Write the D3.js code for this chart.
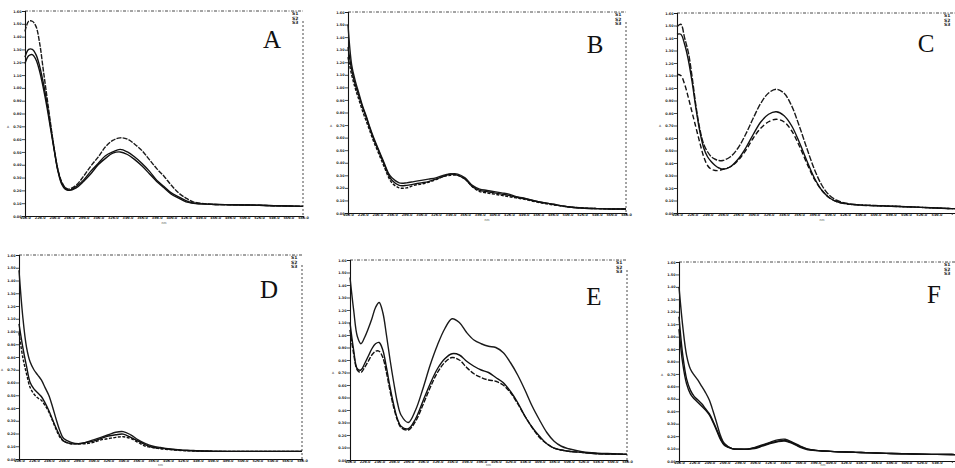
<!DOCTYPE html>
<html>
<head>
<meta charset="utf-8">
<script src="https://d3js.org/d3.v7.min.js"></script>
<style>
  html, body { margin: 0; padding: 0; background: #fff; }
  svg { display: block; }
</style>
</head>
<body>
<svg id="chart" width="955" height="468"></svg>
<script>
// ---------- tick labels ----------
const xTickValues = [200,220,240,260,280,300,320,340,360,380,400,420,440,460,480,500,520,540,560,580];
const yTickValues = [0,0.1,0.2,0.3,0.4,0.5,0.6,0.7,0.8,0.9,1.0,1.1,1.2,1.3,1.4,1.5,1.6];
const panelLetters = ["A","B","C","D","E","F"];
const legendLabels = ["S1","S2","S3"];

// ---------- wavelengths (nm) ----------
const wlStd = [200,205,210,215,220,225,230,235,240,245,250,255,260,270,280,290,300,310,320,330,340,350,360,370,380,390,400,410,420,430,440,460,480,500,520,540,560,580];
const wlE   = [200,205,210,215,220,225,230,235,240,245,250,255,260,265,270,280,290,300,310,320,330,340,350,360,370,380,390,400,410,420,430,440,450,460,470,480,490,500,520,540,560,580];

// ---------- absorbance series ----------
const absA1 = [1.44,1.52,1.52,1.48,1.35,1.14,0.93,0.72,0.52,0.36,0.27,0.22,0.21,0.24,0.31,0.39,0.46,0.54,0.59,0.61,0.60,0.56,0.51,0.44,0.37,0.31,0.24,0.18,0.14,0.11,0.10,0.09,0.088,0.086,0.084,0.08,0.078,0.075];
const absA2 = [1.24,1.30,1.30,1.26,1.17,1.04,0.88,0.70,0.52,0.36,0.26,0.22,0.20,0.23,0.28,0.35,0.41,0.47,0.50,0.52,0.50,0.46,0.41,0.35,0.28,0.23,0.18,0.15,0.12,0.10,0.095,0.09,0.088,0.086,0.084,0.08,0.078,0.075];
const absA3 = [1.19,1.25,1.26,1.22,1.13,1.00,0.85,0.68,0.51,0.35,0.25,0.21,0.20,0.22,0.27,0.33,0.40,0.45,0.49,0.50,0.48,0.44,0.39,0.33,0.27,0.22,0.17,0.14,0.11,0.10,0.095,0.09,0.088,0.086,0.084,0.08,0.078,0.075];

const absB1 = [1.50,1.18,1.05,0.95,0.85,0.77,0.68,0.60,0.53,0.46,0.39,0.32,0.28,0.24,0.24,0.25,0.26,0.27,0.28,0.30,0.31,0.31,0.28,0.22,0.19,0.18,0.17,0.16,0.15,0.13,0.12,0.09,0.07,0.05,0.04,0.035,0.032,0.032];
const absB2 = [1.32,1.14,1.02,0.93,0.84,0.76,0.67,0.59,0.52,0.45,0.38,0.31,0.26,0.22,0.22,0.23,0.24,0.25,0.27,0.29,0.31,0.30,0.27,0.21,0.18,0.17,0.16,0.15,0.14,0.125,0.115,0.09,0.07,0.05,0.04,0.035,0.032,0.032];
const absB3 = [1.24,1.10,0.99,0.90,0.81,0.73,0.65,0.57,0.50,0.43,0.36,0.29,0.24,0.20,0.20,0.22,0.23,0.245,0.265,0.29,0.30,0.30,0.27,0.21,0.17,0.16,0.15,0.14,0.13,0.12,0.11,0.085,0.065,0.05,0.04,0.035,0.032,0.032];

const absC1 = [1.49,1.51,1.40,1.28,1.08,0.85,0.67,0.55,0.49,0.45,0.43,0.42,0.42,0.45,0.52,0.63,0.76,0.88,0.96,0.99,0.96,0.86,0.70,0.52,0.35,0.22,0.14,0.10,0.08,0.07,0.065,0.06,0.055,0.05,0.045,0.04,0.035,0.035];
const absC2 = [1.43,1.43,1.35,1.22,1.04,0.83,0.65,0.52,0.45,0.41,0.38,0.36,0.35,0.37,0.43,0.52,0.63,0.73,0.79,0.81,0.78,0.70,0.57,0.42,0.28,0.18,0.12,0.09,0.075,0.068,0.063,0.058,0.054,0.05,0.045,0.04,0.035,0.035];
const absC3 = [1.11,1.10,1.03,0.92,0.80,0.68,0.56,0.45,0.38,0.35,0.34,0.34,0.35,0.37,0.42,0.50,0.60,0.68,0.73,0.75,0.73,0.66,0.54,0.40,0.27,0.18,0.12,0.09,0.075,0.068,0.063,0.058,0.054,0.05,0.045,0.04,0.035,0.035];

const absD1 = [1.48,1.12,0.88,0.76,0.70,0.66,0.62,0.56,0.50,0.41,0.31,0.22,0.16,0.13,0.12,0.13,0.15,0.17,0.19,0.21,0.215,0.19,0.15,0.12,0.10,0.09,0.08,0.075,0.07,0.068,0.065,0.062,0.06,0.06,0.06,0.06,0.06,0.06];
const absD2 = [1.06,0.88,0.73,0.60,0.55,0.52,0.49,0.44,0.38,0.31,0.24,0.18,0.14,0.12,0.12,0.13,0.14,0.16,0.18,0.19,0.195,0.17,0.14,0.11,0.09,0.085,0.078,0.072,0.068,0.065,0.063,0.06,0.06,0.06,0.06,0.06,0.06,0.06];
const absD3 = [0.99,0.80,0.67,0.56,0.51,0.48,0.46,0.42,0.37,0.30,0.23,0.17,0.14,0.12,0.12,0.12,0.13,0.15,0.16,0.17,0.175,0.16,0.13,0.10,0.09,0.08,0.075,0.07,0.066,0.064,0.062,0.06,0.06,0.06,0.06,0.06,0.06,0.06];

const absE1 = [1.46,1.20,0.99,0.93,0.98,1.05,1.13,1.22,1.26,1.18,1.00,0.80,0.62,0.46,0.36,0.30,0.40,0.57,0.76,0.92,1.05,1.13,1.10,1.02,0.96,0.93,0.91,0.90,0.86,0.78,0.68,0.56,0.43,0.32,0.22,0.15,0.11,0.09,0.065,0.055,0.05,0.045];
const absE2 = [1.10,0.88,0.73,0.72,0.77,0.83,0.89,0.93,0.94,0.88,0.74,0.58,0.44,0.33,0.27,0.25,0.33,0.47,0.61,0.73,0.81,0.85,0.84,0.79,0.75,0.72,0.70,0.66,0.62,0.55,0.46,0.35,0.26,0.19,0.13,0.095,0.08,0.07,0.06,0.05,0.048,0.045];
const absE3 = [1.04,0.85,0.72,0.70,0.74,0.79,0.84,0.87,0.87,0.82,0.70,0.55,0.42,0.32,0.26,0.24,0.31,0.44,0.58,0.70,0.78,0.82,0.80,0.74,0.69,0.66,0.64,0.63,0.60,0.54,0.45,0.35,0.26,0.18,0.13,0.095,0.08,0.07,0.06,0.05,0.048,0.045];

const absF1 = [1.40,1.08,0.85,0.74,0.69,0.65,0.60,0.55,0.49,0.40,0.30,0.20,0.14,0.10,0.095,0.095,0.11,0.13,0.15,0.17,0.175,0.15,0.12,0.095,0.085,0.08,0.077,0.074,0.072,0.07,0.068,0.064,0.06,0.058,0.055,0.053,0.052,0.05];
const absF2 = [1.16,0.85,0.66,0.57,0.52,0.49,0.46,0.42,0.38,0.32,0.25,0.18,0.13,0.10,0.095,0.095,0.105,0.125,0.145,0.16,0.165,0.145,0.115,0.095,0.085,0.08,0.077,0.074,0.072,0.07,0.068,0.064,0.06,0.058,0.055,0.053,0.052,0.05];
const absF3 = [1.06,0.78,0.62,0.54,0.50,0.47,0.44,0.41,0.37,0.31,0.24,0.17,0.125,0.10,0.095,0.095,0.10,0.12,0.14,0.155,0.16,0.14,0.11,0.09,0.085,0.08,0.077,0.074,0.072,0.07,0.068,0.064,0.06,0.058,0.055,0.053,0.052,0.05];

// ---------- panel layout (pixel boxes) ----------
const panels = [
  {letter:panelLetters[0], box:[25,303,11,216],  lx:272, ly:48,  wl:wlStd, series:[absA1,absA2,absA3], dash:["5,1.2",null,null]},
  {letter:panelLetters[1], box:[348,626,12,213], lx:595, ly:53,  wl:wlStd, series:[absB1,absB2,absB3], dash:[null,null,"3,1.5"]},
  {letter:panelLetters[2], box:[677,967,13,213], lx:926, ly:52,  wl:wlStd, series:[absC1,absC2,absC3], dash:["6,1.5",null,"5,2.5"]},
  {letter:panelLetters[3], box:[19,302,255,459], lx:269, ly:298, wl:wlStd, series:[absD1,absD2,absD3], dash:[null,null,"3,1.5"]},
  {letter:panelLetters[4], box:[350,627,260,460],lx:594, ly:305, wl:wlE,   series:[absE1,absE2,absE3], dash:[null,null,"5,1.5"]},
  {letter:panelLetters[5], box:[679,967,262,461],lx:934, ly:303, wl:wlStd, series:[absF1,absF2,absF3], dash:[null,null,null]}
];

const svg = d3.select("#chart");
svg.append("rect").attr("width",955).attr("height",468).attr("fill","#fff");

panels.forEach(p => {
  const [x0,x1,y0,y1] = p.box;
  const x = d3.scaleLinear().domain([200,580]).range([x0,x1]);
  const y = d3.scaleLinear().domain([0,1.6]).range([y1,y0]);
  const g = svg.append("g");

  // frame: top and right dashed
  g.append("line").attr("x1",x0).attr("x2",x1).attr("y1",y0).attr("y2",y0)
    .attr("stroke","#333").attr("stroke-width",0.9).attr("stroke-dasharray","3,1.5,1,1.5");
  g.append("line").attr("x1",x1).attr("x2",x1).attr("y1",y0+10).attr("y2",y1)
    .attr("stroke","#333").attr("stroke-width",0.9).attr("stroke-dasharray","2,2");

  // axes
  const yAxis = d3.axisLeft(y).tickValues(yTickValues).tickSize(3).tickFormat(d3.format(".2f"));
  const xAxis = d3.axisBottom(x).tickValues(xTickValues).tickSize(2).tickFormat(d3.format(".1f"));
  const ya = g.append("g").attr("transform",`translate(${x0},0)`).call(yAxis);
  const xa = g.append("g").attr("transform",`translate(0,${y1})`).call(xAxis);
  [ya,xa].forEach(a => {
    a.select(".domain").attr("stroke","#111").attr("stroke-width",1.1);
    a.selectAll(".tick line").attr("stroke","#222").attr("stroke-width",0.8);
    a.selectAll(".tick text").attr("fill","#222").attr("font-size",3.4)
      .attr("font-family","DejaVu Sans").attr("font-weight","bold");
  });
  ya.selectAll(".tick text").attr("x",-3.5);
  xa.selectAll(".tick text").attr("y",1);
  // drop labels that would fall past the page's right edge
  xa.selectAll(".tick").filter(d => x(d) > 946).select("text").remove();

  // axis titles (tiny)
  g.append("text").attr("x",x0-18).attr("y",(y0+y1)/2 + 14).attr("font-size",3)
    .attr("font-family","DejaVu Sans").attr("fill","#222").text("A");
  g.append("text").attr("x",(x0+x1)/2).attr("y",Math.min(y1+8,466)).attr("font-size",3)
    .attr("font-family","DejaVu Sans").attr("fill","#333").attr("text-anchor","middle").text("nm");

  // spectra
  const line = d3.line().x((d,i)=>x(p.wl[i])).y(d=>y(d)).curve(d3.curveCatmullRom.alpha(0.5));
  p.series.forEach((s,k) => {
    g.append("path").datum(s).attr("d",line).attr("fill","none")
      .attr("stroke", k===0 ? "#1a1a1a" : "#111")
      .attr("stroke-width",1.4)
      .attr("stroke-dasharray",p.dash[k]);
  });

  // mini legend block at top right
  legendLabels.forEach((t,k) => {
    g.append("text").attr("x",Math.min(x1-11,944)).attr("y",y0+4+k*4.5).attr("font-size",4.5)
      .attr("font-family","DejaVu Sans").attr("font-weight","bold").attr("fill","#222").text(t);
  });

  // panel letter
  g.append("text").attr("x",p.lx).attr("y",p.ly).attr("text-anchor","middle")
    .attr("font-family","Liberation Serif, DejaVu Serif, serif").attr("font-size",25)
    .attr("fill","#111").text(p.letter);
});
</script>
</body>
</html>
